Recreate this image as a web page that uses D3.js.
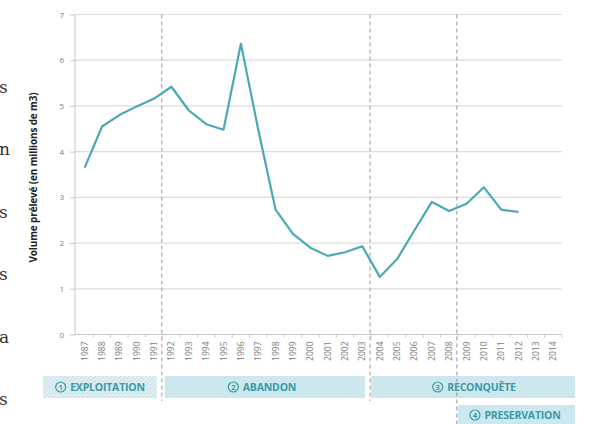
<!DOCTYPE html>
<html>
<head>
<meta charset="utf-8">
<script src="https://d3js.org/d3.v7.min.js"></script>
<style>
  body { margin: 0; background: #fff; }
  svg { display: block; }
  .grid line { stroke: #dcdcdc; stroke-width: 1.2px; }
  .axis text { fill: #7a7a7a; font-family: "Open Sans", sans-serif; font-size: 8px; }
  .axis path, .axis line { stroke: #c8c8c8; }
  .phase-text { fill: #3a9aa8; font-family: "Open Sans", sans-serif; font-weight: 700; font-size: 10.5px; letter-spacing: -0.2px; }
  .phase-num { fill: #3a9aa8; font-family: "Open Sans", sans-serif; font-weight: 700; font-size: 7.5px; }
  .margin-text { fill: #333; font-family: "DejaVu Serif", serif; font-size: 17px; }
</style>
</head>
<body>
<svg id="chart" width="589" height="424"></svg>
<script>
// ---- data ----
const years = d3.range(1987, 2015);
const volumeYears = [1987,1988,1989,1990,1991,1992,1993,1994,1995,1996,1997,1998,1999,2000,
                     2001,2002,2003,2004,2005,2006,2007,2008,2009,2010,2011,2012];
const volumes = [3.65,4.55,4.8,4.99,5.16,5.42,4.9,4.6,4.48,6.36,4.48,2.73,2.2,1.9,
                 1.72,1.8,1.93,1.26,1.65,2.28,2.9,2.7,2.86,3.22,2.73,2.68];
const yTicks = [0,1,2,3,4,5,6,7];
const phaseLabels = ["EXPLOITATION", "ABANDON", "RECONQUÊTE", "PRESERVATION"];
const phaseNums = ["1", "2", "3", "4"];
const phaseStart = [1987, 1992, 2004, 2009];
const phaseEnd = [1991, 2003, 2014, 2014];
const phaseRow = [0, 0, 0, 1];
const marginLetters = ["s", "n", "s", "s", "a", "s"];
const yTitle = "Volume prélevé (en millions de m3)";

const svg = d3.select("#chart");

const x = d3.scaleBand().domain(years).range([76, 562]);
const y = d3.scaleLinear().domain([0, 7]).range([334.5, 14.5]);
const cx = yr => x(yr) + x.bandwidth() / 2;

// stray letters of the page text on the left
svg.selectAll("text.margin-text").data(marginLetters).join("text")
   .attr("class", "margin-text")
   .attr("x", -1)
   .attr("y", (d, i) => 93 + i * 62.4)
   .text(d => d);

// gridlines
svg.append("g").attr("class", "grid")
   .selectAll("line").data(yTicks.filter(d => d > 0)).join("line")
   .attr("x1", 75).attr("x2", 562)
   .attr("y1", d => y(d)).attr("y2", d => y(d));

// y axis
const yAxis = svg.append("g").attr("class", "axis").attr("transform", "translate(75,0)")
   .call(d3.axisLeft(y).tickValues(yTicks).tickSize(5).tickPadding(6).tickFormat(d3.format("d")));
yAxis.select(".domain").attr("d", `M0,${y(7)}V${y(0)}`);

// x axis
const xAxis = svg.append("g").attr("class", "axis").attr("transform", `translate(0,${y(0)})`)
   .call(d3.axisBottom(x).tickSize(0).tickPadding(0));
xAxis.select(".domain").attr("d", "M75,0H562");
xAxis.selectAll(".tick text")
   .style("font-size", "8.5px")
   .attr("transform", "rotate(-90)")
   .attr("text-anchor", "end")
   .attr("x", -7).attr("y", 0).attr("dy", "0.35em");
// small boundary ticks
xAxis.append("g").selectAll("line").data(years).join("line")
   .attr("x1", d => x(d) + x.bandwidth()).attr("x2", d => x(d) + x.bandwidth())
   .attr("y1", 0).attr("y2", 3).attr("stroke", "#d0d0d0");

// y title
svg.append("text")
   .attr("transform", `translate(37,${(y(0) + y(7)) / 2 + 3}) rotate(-90)`)
   .attr("text-anchor", "middle")
   .style("font-family", "'Open Sans', sans-serif")
   .style("font-weight", 700).style("font-size", "10px").style("fill", "#222")
   .style("letter-spacing", "-0.15px")
   .text(yTitle);

// hatched pattern for phase 1
const defs = svg.append("defs");
const pat = defs.append("pattern").attr("id", "hatch").attr("patternUnits", "userSpaceOnUse")
   .attr("width", 3).attr("height", 3).attr("patternTransform", "rotate(45)");
pat.append("rect").attr("width", 3).attr("height", 3).attr("fill", "#e2f0f4");
pat.append("line").attr("x1", 0).attr("y1", 0).attr("x2", 0).attr("y2", 3)
   .attr("stroke", "#b8dbe4").attr("stroke-width", 1.4);

// phase bands
const phases = phaseLabels.map((label, i) => ({
  label, num: phaseNums[i], start: phaseStart[i], end: phaseEnd[i], row: phaseRow[i], i
}));
const rowY = [376, 405];
const bandH = [22, 20];
const bandX0 = p => p.i === 0 ? 43 : x(p.start) + (p.i === 1 ? 2 : 0);
const bandX1 = p => p.end === 2014 ? 575 : x(p.end) + x.bandwidth() - 6;
const labelCenter = [100, 262, 474, 515];

const bands = svg.append("g").selectAll("g").data(phases).join("g");
bands.append("rect")
   .attr("x", bandX0).attr("width", p => bandX1(p) - bandX0(p))
   .attr("y", p => rowY[p.row]).attr("height", p => bandH[p.row])
   .attr("fill", p => p.i === 0 ? "url(#hatch)" : "#cde7ee");
bands.each(function (p) {
  const g = d3.select(this);
  const midY = rowY[p.row] + bandH[p.row] / 2;
  const t = g.append("text").attr("class", "phase-text")
     .attr("y", midY + 3.8).text(p.label);
  const w = t.node().getComputedTextLength();
  const total = 11 + 4 + w;
  const left = labelCenter[p.i] - total / 2;
  g.append("circle").attr("cx", left + 5.5).attr("cy", midY)
     .attr("r", 5).attr("fill", "none").attr("stroke", "#3a9aa8").attr("stroke-width", 1.2);
  g.append("text").attr("class", "phase-num")
     .attr("x", left + 5.5).attr("y", midY + 2.7).attr("text-anchor", "middle").text(p.num);
  t.attr("x", left + 15);
});

// dashed phase boundaries
const boundaries = [1992, 2004, 2009];
svg.append("g").selectAll("line").data(boundaries).join("line")
   .attr("x1", d => x(d) - 1).attr("x2", d => x(d) - 1)
   .attr("y1", y(7)).attr("y2", d => d === 2009 ? 424 : 401)
   .attr("stroke", "#9a9a9a").attr("stroke-width", 1).attr("stroke-dasharray", "4,3");

// the line
const lineData = volumeYears.map((yr, i) => ({ yr, v: volumes[i] }));
svg.append("path").datum(lineData)
   .attr("fill", "none").attr("stroke", "#4aa9b6").attr("stroke-width", 2.2)
   .attr("stroke-linejoin", "round")
   .attr("d", d3.line().x(d => cx(d.yr)).y(d => y(d.v)));
</script>
</body>
</html>
